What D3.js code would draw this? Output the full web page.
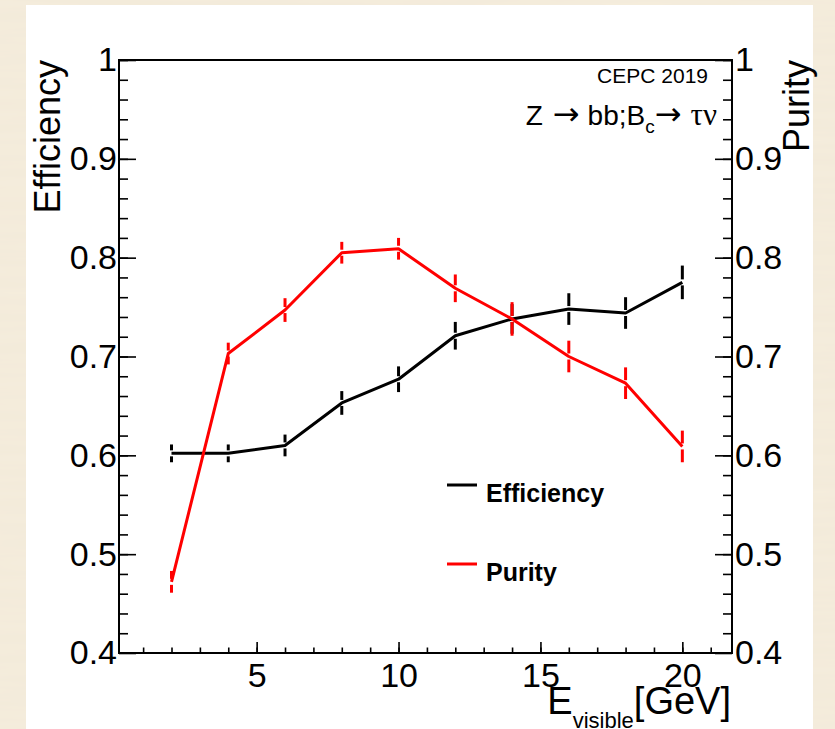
<!DOCTYPE html>
<html>
<head>
<meta charset="utf-8">
<script src="https://cdn.jsdelivr.net/npm/d3@7"></script>
<style>
  html, body { margin: 0; padding: 0; background: #f3ebdb; }
  svg { display: block; }
  text { font-family: "Liberation Sans", Arial, Helvetica, sans-serif; }
</style>
</head>
<body>
<svg id="chart" width="835" height="729"></svg>
<script>
// Visible energy bin centres (GeV)
const energy = [2, 4, 6, 8, 10, 12, 14, 16, 18, 20];
// Selection efficiency and its uncertainty
const efficiency    = [0.602, 0.602, 0.610, 0.653, 0.677, 0.721, 0.738, 0.748, 0.744, 0.775];
const efficiencyErr = [0.009, 0.009, 0.011, 0.012, 0.013, 0.014, 0.015, 0.016, 0.016, 0.017];
// Purity and its uncertainty
const purity    = [0.472, 0.703, 0.747, 0.805, 0.809, 0.769, 0.738, 0.700, 0.673, 0.609];
const purityErr = [0.011, 0.011, 0.012, 0.011, 0.011, 0.014, 0.017, 0.016, 0.016, 0.016];
// Axis ticks
const xMajorTicks = [5, 10, 15, 20];
const xMinorTicks = d3.range(1, 22);
const yMajorTicks = [0.4, 0.5, 0.6, 0.7, 0.8, 0.9, 1.0];
const yMinorTicks = d3.range(0.42, 1.0, 0.02).map(v => +v.toFixed(2));

const svg = d3.select("#chart");
const W = 835, H = 729;

// paper-like backdrop
const defs = svg.append("defs");
const f = defs.append("filter").attr("id", "paper").attr("x", 0).attr("y", 0).attr("width", 1).attr("height", 1);
f.append("feTurbulence").attr("type", "fractalNoise").attr("baseFrequency", "0.006 0.09")
  .attr("numOctaves", 3).attr("seed", 7).attr("result", "noise");
f.append("feColorMatrix").attr("in", "noise").attr("type", "matrix")
  .attr("values", "0 0 0 0 0.80  0 0 0 0 0.72  0 0 0 0 0.58  0 0 0 0.22 0").attr("result", "tint");
f.append("feFlood").attr("flood-color", "#f5eddd").attr("result", "base");
f.append("feComposite").attr("in", "tint").attr("in2", "base").attr("operator", "over");
svg.append("rect").attr("width", W).attr("height", H).attr("filter", "url(#paper)");

// white canvas
svg.append("rect").attr("x", 26).attr("y", 5).attr("width", 787).attr("height", H - 5).attr("fill", "#ffffff");

const frame = { left: 119, right: 732, top: 60, bottom: 653 };
const x = d3.scaleLinear().domain([0.15, 21.75]).range([frame.left, frame.right]);
const y = d3.scaleLinear().domain([0.4, 1.0]).range([frame.bottom, frame.top]);

const fmt = d3.format("~g");
const tickFont = 34;

function styleAxis(g) {
  g.select(".domain").remove();
  g.selectAll(".tick line").attr("stroke", "#000").attr("stroke-width", 1.6);
  g.selectAll(".tick text").attr("fill", "#000").attr("font-size", tickFont)
    .attr("font-family", "Liberation Sans, Arial, sans-serif");
}

// X axis: minor and major ticks pointing into the frame
svg.append("g").attr("transform", `translate(0,${frame.bottom})`)
  .call(d3.axisBottom(x).tickValues(xMinorTicks).tickSize(-5.5).tickFormat(""))
  .call(styleAxis);
svg.append("g").attr("transform", `translate(0,${frame.bottom})`)
  .call(d3.axisBottom(x).tickValues(xMajorTicks).tickSize(-11).tickFormat(fmt))
  .call(styleAxis)
  .call(g => g.selectAll(".tick text").attr("dy", "0.71em").attr("y", 10));

// Left axis
svg.append("g").attr("transform", `translate(${frame.left},0)`)
  .call(d3.axisLeft(y).tickValues(yMinorTicks).tickSize(-9).tickFormat(""))
  .call(styleAxis);
svg.append("g").attr("transform", `translate(${frame.left},0)`)
  .call(d3.axisLeft(y).tickValues(yMajorTicks).tickSize(-17).tickFormat(fmt))
  .call(styleAxis)
  .call(g => g.selectAll(".tick text").attr("x", -2));

// Right axis
svg.append("g").attr("transform", `translate(${frame.right},0)`)
  .call(d3.axisRight(y).tickValues(yMinorTicks).tickSize(-9).tickFormat(""))
  .call(styleAxis);
svg.append("g").attr("transform", `translate(${frame.right},0)`)
  .call(d3.axisRight(y).tickValues(yMajorTicks).tickSize(-17).tickFormat(fmt))
  .call(styleAxis)
  .call(g => g.selectAll(".tick text").attr("x", 3));

// frame
svg.append("rect").attr("x", frame.left).attr("y", frame.top)
  .attr("width", frame.right - frame.left).attr("height", frame.bottom - frame.top)
  .attr("fill", "none").attr("stroke", "#000").attr("stroke-width", 2);

// Series
const series = [
  { name: "Efficiency", values: efficiency, errors: efficiencyErr, color: "#000000" },
  { name: "Purity", values: purity, errors: purityErr, color: "#ff0000" }
];

const line = d3.line().x(d => x(d[0])).y(d => y(d[1]));
const gap = 3;
series.forEach(s => {
  const pts = energy.map((e, i) => [e, s.values[i], s.errors[i]]);
  const g = svg.append("g");
  g.append("path").attr("d", line(pts)).attr("fill", "none")
    .attr("stroke", s.color).attr("stroke-width", 3).attr("stroke-linejoin", "round");
  // error bars with a small gap at the central value
  pts.forEach(([e, v, err]) => {
    const cx = x(e), cy = y(v);
    g.append("line").attr("x1", cx).attr("x2", cx).attr("y1", y(v + err)).attr("y2", cy - gap)
      .attr("stroke", s.color).attr("stroke-width", 3);
    g.append("line").attr("x1", cx).attr("x2", cx).attr("y1", cy + gap).attr("y2", y(v - err))
      .attr("stroke", s.color).attr("stroke-width", 3);
  });
});

// Legend
const legend = [{ name: "Efficiency", color: "#000000", y: 485 }, { name: "Purity", color: "#ff0000", y: 564 }];
legend.forEach(l => {
  svg.append("line").attr("x1", 447).attr("x2", 477).attr("y1", l.y).attr("y2", l.y)
    .attr("stroke", l.color).attr("stroke-width", 3);
  svg.append("text").attr("x", 486).attr("y", l.y + 17).attr("font-size", 25)
    .attr("font-weight", "bold").attr("fill", "#000").text(l.name);
});

// Annotations
svg.append("text").attr("x", 708).attr("y", 83).attr("text-anchor", "end")
  .attr("font-size", 21).attr("fill", "#000").text("CEPC 2019");

const arrowFont = "DejaVu Sans, sans-serif";
const proc = svg.append("text").attr("x", 717).attr("y", 125).attr("text-anchor", "end")
  .attr("font-size", 28).attr("fill", "#000");
proc.append("tspan").text("Z");
proc.append("tspan").attr("font-family", arrowFont).attr("font-size", 32).attr("dx", 10).text("\u2192");
proc.append("tspan").attr("dx", 8).text("bb;B");
proc.append("tspan").attr("font-size", 19).attr("dy", 8).text("c");
proc.append("tspan").attr("font-family", arrowFont).attr("font-size", 32).attr("dy", -8).text("\u2192");
proc.append("tspan").attr("font-family", "Liberation Serif, Times New Roman, serif").attr("font-size", 31)
  .attr("dx", 9).text("\u03c4\u03bd");

// Axis titles
svg.append("text").attr("transform", "translate(60,60) rotate(-90)").attr("text-anchor", "end")
  .attr("font-size", 36).attr("fill", "#000").text("Efficiency");
svg.append("text").attr("transform", "translate(809,60) rotate(-90)").attr("text-anchor", "end")
  .attr("font-size", 36).attr("fill", "#000").text("Purity");

const xt = svg.append("text").attr("x", 731).attr("y", 714).attr("text-anchor", "end")
  .attr("font-size", 38).attr("fill", "#000");
xt.append("tspan").text("E");
xt.append("tspan").attr("font-size", 22).attr("dy", 14).text("visible");
xt.append("tspan").attr("dy", -14).text("[GeV]");
</script>
</body>
</html>
